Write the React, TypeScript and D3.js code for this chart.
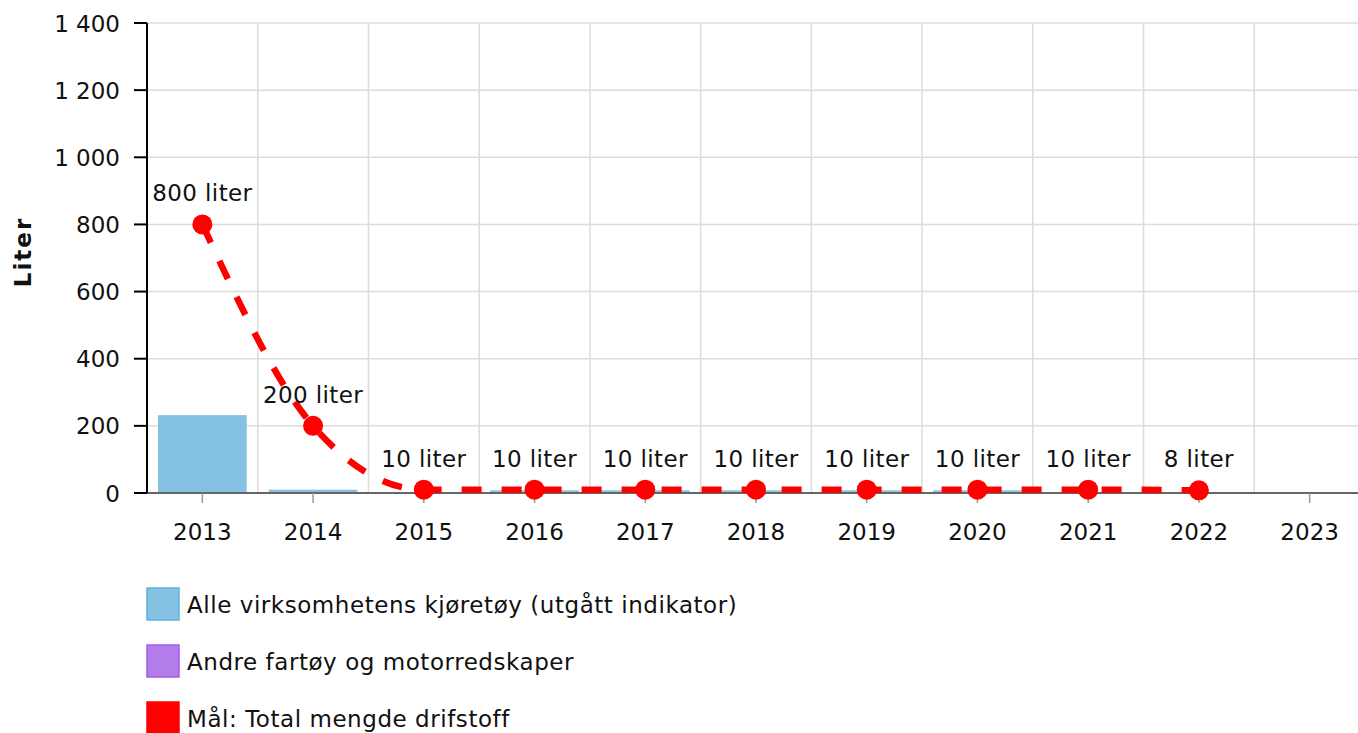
import { useEffect, useRef } from 'react';
import * as d3 from 'd3';

const years = ['2013', '2014', '2015', '2016', '2017', '2018', '2019', '2020', '2021', '2022', '2023'];
const vehicles = [232, 10, 0, 8, 8, 8, 8, 8, 0, 0, 0];
const otherVessels = [0, 0, 0, 0, 0, 0, 0, 0, 3, 3, 3];
const target = [800, 200, 10, 10, 10, 10, 10, 10, 10, 8, null];
const yTicks = [0, 200, 400, 600, 800, 1000, 1200, 1400];

const legendItems = [
  { label: 'Alle virksomhetens kjøretøy (utgått indikator)', fill: '#85c2e1', stroke: '#5db2dd' },
  { label: 'Andre fartøy og motorredskaper', fill: '#b57deb', stroke: '#a25ee8' },
  { label: 'Mål: Total mengde drifstoff', fill: '#ff0000', stroke: '#ff0000' },
];

const W = 1358;
const H = 733;
const FONT = 'DejaVu Sans, Verdana, sans-serif';
const FS = 23;

const App = () => {
  const svgRef = useRef<SVGSVGElement>(null);

  useEffect(() => {
    const svg = d3.select(svgRef.current);
    svg.selectAll('*').remove();

    const margin = { top: 23, left: 147, bottom: 493 };
    const x = d3.scaleBand().domain(years).range([margin.left, 1365]).paddingInner(0).paddingOuter(0);
    const y = d3.scaleLinear().domain([0, 1400]).range([margin.bottom, margin.top]);

    // grid
    const grid = svg.append('g');
    yTicks.forEach(t => {
      grid.append('line')
        .attr('x1', margin.left).attr('x2', W)
        .attr('y1', y(t)).attr('y2', y(t))
        .attr('stroke', '#dcdcdc').attr('stroke-width', 1.5);
    });
    years.forEach((yr, i) => {
      if (i === 0) return;
      grid.append('line')
        .attr('x1', x(yr)!).attr('x2', x(yr)!)
        .attr('y1', margin.top).attr('y2', margin.bottom)
        .attr('stroke', '#dcdcdc').attr('stroke-width', 1.5);
    });

    // stacked bars
    const barPad = 11;
    const bw = x.bandwidth() - 2 * barPad;
    years.forEach((yr, i) => {
      const v1 = vehicles[i];
      const v2 = otherVessels[i];
      if (v1 > 0) {
        svg.append('rect')
          .attr('x', x(yr)! + barPad).attr('width', bw)
          .attr('y', y(v1)).attr('height', y(0) - y(v1))
          .attr('fill', '#85c2e1');
      }
      if (v2 > 0) {
        svg.append('rect')
          .attr('x', x(yr)! + barPad).attr('width', bw)
          .attr('y', y(v1 + v2)).attr('height', y(v1) - y(v1 + v2))
          .attr('fill', '#b57deb');
      }
    });

    // x axis
    svg.append('line')
      .attr('x1', margin.left).attr('x2', W)
      .attr('y1', y(0)).attr('y2', y(0))
      .attr('stroke', '#666').attr('stroke-width', 2);
    years.forEach(yr => {
      const cx = x(yr)! + x.bandwidth() / 2;
      svg.append('line')
        .attr('x1', cx).attr('x2', cx)
        .attr('y1', y(0)).attr('y2', y(0) + 10)
        .attr('stroke', '#999').attr('stroke-width', 1.5);
      svg.append('text')
        .attr('x', cx).attr('y', 540)
        .attr('text-anchor', 'middle')
        .attr('font-family', FONT).attr('font-size', FS)
        .attr('fill', '#111')
        .text(yr);
    });

    // y axis
    svg.append('line')
      .attr('x1', margin.left).attr('x2', margin.left)
      .attr('y1', margin.top).attr('y2', margin.bottom)
      .attr('stroke', '#000').attr('stroke-width', 2);
    const fmt = (v: number) => d3.format(',')(v).replace(/,/g, ' ');
    yTicks.forEach(t => {
      svg.append('line')
        .attr('x1', margin.left - 13).attr('x2', margin.left)
        .attr('y1', y(t)).attr('y2', y(t))
        .attr('stroke', '#000').attr('stroke-width', 2);
      svg.append('text')
        .attr('x', 120).attr('y', y(t) + 8.5)
        .attr('text-anchor', 'end')
        .attr('font-family', FONT).attr('font-size', FS)
        .attr('fill', '#111')
        .text(fmt(t));
    });
    svg.append('text')
      .attr('transform', `translate(31,${252}) rotate(-90)`)
      .attr('text-anchor', 'middle')
      .attr('font-family', FONT).attr('font-size', FS).attr('font-weight', 'bold')
      .attr('letter-spacing', 2)
      .attr('fill', '#111')
      .text('Liter');

    // target line
    const pts = years
      .map((yr, i) => ({ yr, v: target[i] }))
      .filter(d => d.v !== null) as { yr: string; v: number }[];
    const line = d3.line<{ yr: string; v: number }>()
      .x(d => x(d.yr)! + x.bandwidth() / 2)
      .y(d => y(d.v))
      .curve(d3.curveMonotoneX);
    svg.append('path')
      .attr('d', line(pts))
      .attr('fill', 'none')
      .attr('stroke', '#ff0000')
      .attr('stroke-width', 6.5)
      .attr('stroke-dasharray', '20,20');
    pts.forEach(d => {
      const cx = x(d.yr)! + x.bandwidth() / 2;
      svg.append('circle')
        .attr('cx', cx).attr('cy', y(d.v)).attr('r', 10)
        .attr('fill', '#ff0000');
      svg.append('text')
        .attr('x', cx).attr('y', y(d.v) - 23)
        .attr('text-anchor', 'middle')
        .attr('font-family', FONT).attr('font-size', FS)
        .attr('letter-spacing', 0.4)
        .attr('fill', '#111')
        .text(`${d.v} liter`);
    });

    // legend
    legendItems.forEach((item, i) => {
      const ly = 588 + i * 57;
      svg.append('rect')
        .attr('x', 147).attr('y', ly).attr('width', 32).attr('height', 32)
        .attr('fill', item.fill).attr('stroke', item.stroke).attr('stroke-width', 1.5);
      svg.append('text')
        .attr('x', 187).attr('y', ly + 25)
        .attr('font-family', FONT).attr('font-size', FS)
        .attr('letter-spacing', 0.55)
        .attr('fill', '#111')
        .text(item.label);
    });
  }, []);

  return (
    <svg
      ref={svgRef}
      width={W}
      height={H}
      style={{ position: 'absolute', left: 0, top: 0, background: '#fff' }}
    />
  );
};

export default App;
